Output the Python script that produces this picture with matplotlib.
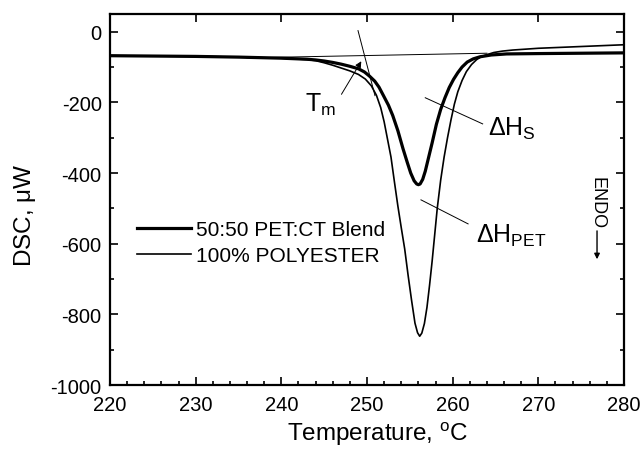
import numpy as np
import matplotlib
matplotlib.use('Agg')
import matplotlib.pyplot as plt
from matplotlib.ticker import MultipleLocator

plt.rcParams['font.family'] = ['Liberation Sans', 'DejaVu Sans']
plt.rcParams['mathtext.fontset'] = 'custom'
plt.rcParams['mathtext.rm'] = 'Liberation Sans'
plt.rcParams['axes.unicode_minus'] = False

# 50:50 PET:CT blend (thick line)
blend_t = [220, 225, 230, 235, 240, 243, 244, 245, 246, 247, 248, 249, 249.7,
           250.3, 250.9, 251.4, 251.9, 252.5, 253.0, 253.6, 254.2, 254.7, 255.1,
           255.5, 255.8, 256.0, 256.2, 256.5, 256.8, 257.2, 257.6, 258.1, 258.6,
           259.1, 259.6, 260.1, 260.6, 261.1, 261.7, 262.4, 263.2, 264.5, 266.3,
           270, 275, 280]
blend_v = [-68, -69, -70, -72, -75, -78, -80, -83, -87, -92, -98, -105, -114,
           -126, -140, -157, -180, -208, -237, -280, -331, -370, -400,
           -422, -431, -433, -431, -418, -395, -355, -315, -262, -220,
           -187, -158, -135, -116, -100, -86, -77, -71, -66, -63,
           -62, -61, -60]

# 100% polyester (thin line)
poly_t = [220, 230, 235, 240, 243, 244, 245, 246, 247, 248, 249, 249.8, 250.5,
          251.1, 251.6, 252.0, 252.4, 252.8, 253.2, 253.6, 254.0, 254.4, 254.8,
          255.2, 255.6, 255.9, 256.15, 256.4, 256.7, 257.0, 257.3, 257.6, 257.9,
          258.2, 258.6, 259.0, 259.4, 259.8, 260.2, 260.6, 261.1, 261.6, 262.2,
          262.8, 263.4, 264.0, 264.8, 265.8, 267, 270, 275, 280]
poly_v = [-68, -70, -72, -75, -79, -82, -88, -95, -103, -111, -121, -134, -153,
          -180, -215, -255, -305, -355, -425, -493, -555, -615, -690,
          -760, -825, -852, -862, -853, -826, -780, -718, -650, -575,
          -500, -420, -355, -300, -250, -205, -170, -138, -113, -93,
          -79, -70, -65, -59, -55, -52, -47, -42, -37]

# construction lines
base_t = [236, 264]
base_v = [-74, -61]
tangent_t = [248.95, 250.93]
tangent_v = [3, -181]

fig = plt.figure(figsize=(6.41, 4.52), dpi=100)
ax = fig.add_axes([0.1716, 0.146, 0.8019, 0.8208])

ax.plot(blend_t, blend_v, color='black', lw=2.3, label='50:50 PET:CT Blend')
ax.plot(poly_t, poly_v, color='black', lw=1.2, label='100% POLYESTER')
ax.plot(base_t, base_v, color='black', lw=0.7)
ax.plot(tangent_t, tangent_v, color='black', lw=0.7)

ax.set_xlim(220, 280)
ax.set_ylim(-1000, 50)
ax.xaxis.set_major_locator(MultipleLocator(10))
ax.xaxis.set_minor_locator(MultipleLocator(2))
ax.yaxis.set_major_locator(MultipleLocator(200))
ax.yaxis.set_minor_locator(MultipleLocator(100))
ax.tick_params(which='both', direction='in', top=True, right=True, width=1.2,
               labelsize=14.5)
ax.tick_params(which='major', length=6)
ax.tick_params(which='minor', length=3, top=False)
ax.tick_params(axis='x', pad=7)
ax.tick_params(axis='y', pad=6)
for s in ax.spines.values():
    s.set_linewidth(1.6)

ax.set_xlabel(r'Temperature, $\mathregular{^oC}$', fontsize=17.5)
ax.xaxis.set_label_coords(0.52, -0.094)
ax.set_ylabel(r'DSC, $\mathregular{\mu}$W', fontsize=17.5)
ax.yaxis.set_label_coords(-0.14, 0.461)

leg = ax.legend(loc='upper left', bbox_to_anchor=(0.0525, 0.445), frameon=False,
                fontsize=15, handlelength=2.6, handletextpad=0.25,
                labelspacing=0.35, borderpad=0, borderaxespad=0)

# annotations
ax.annotate('', xy=(249.5, -77), xytext=(246.85, -184),
            arrowprops=dict(arrowstyle='-|>', lw=0.7, color='black', mutation_scale=9))
ax.text(244.6, -205, r'$\mathregular{T_m}$', fontsize=18, ha='center', va='center')
ax.plot([256.8, 263.5], [-187, -261], color='black', lw=0.7)
ax.text(266.9, -272, r'$\mathregular{\Delta H_S}$', fontsize=18, ha='center', va='center')
ax.plot([256.3, 261.8], [-476, -544], color='black', lw=0.7)
ax.text(266.9, -575, r'$\mathregular{\Delta H_{PET}}$', fontsize=18, ha='center', va='center')

ax.text(276.8, -481, 'ENDO', rotation=270, fontsize=13, ha='center', va='center')
ax.annotate('', xy=(276.85, -652), xytext=(276.85, -556),
            arrowprops=dict(arrowstyle='-|>', lw=1.0, color='black', mutation_scale=8))

fig.savefig('out.png', dpi=100)
